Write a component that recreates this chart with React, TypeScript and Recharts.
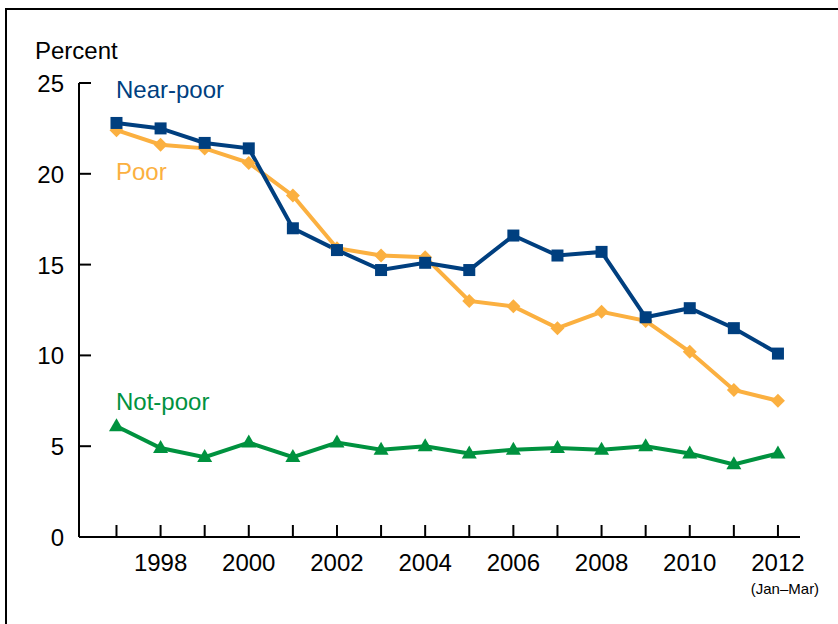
import React from "react";
import { LineChart, Line, XAxis, YAxis } from "recharts";

const years = [1997, 1998, 1999, 2000, 2001, 2002, 2003, 2004, 2005, 2006, 2007, 2008, 2009, 2010, 2011, 2012];
const nearPoor = [22.8, 22.5, 21.7, 21.4, 17.0, 15.8, 14.7, 15.1, 14.7, 16.6, 15.5, 15.7, 12.1, 12.6, 11.5, 10.1];
const poor = [22.4, 21.6, 21.4, 20.6, 18.8, 15.9, 15.5, 15.4, 13.0, 12.7, 11.5, 12.4, 11.9, 10.2, 8.1, 7.5];
const notPoor = [6.1, 4.9, 4.4, 5.2, 4.4, 5.2, 4.8, 5.0, 4.6, 4.8, 4.9, 4.8, 5.0, 4.6, 4.0, 4.6];
const yTicks = [0, 5, 10, 15, 20, 25];
const labeledYears = [1998, 2000, 2002, 2004, 2006, 2008, 2010, 2012];
const subLabels: Record<number, string> = { 2012: "(Jan\u2013Mar)" };
const seriesNames = { nearPoor: "Near-poor", poor: "Poor", notPoor: "Not-poor" };
const yAxisTitle = "Percent";

const data = years.map((y, i) => ({ year: y, nearPoor: nearPoor[i], poor: poor[i], notPoor: notPoor[i] }));

const FONT = "'Liberation Sans', Arial, Helvetica, sans-serif";
const C_NEAR = "#003f7f";
const C_POOR = "#fbb040";
const C_NOT = "#00923f";

const XTick = (props: any) => {
  const { x, y, payload } = props;
  const v = payload.value;
  return (
    <g>
      <line x1={x} x2={x} y1={y} y2={y - 12} stroke="#000" strokeWidth={2} />
      {labeledYears.includes(v) && (
        <text x={x} y={y + 34} textAnchor="middle" fontSize={24} fill="#000" fontFamily={FONT}>
          {v}
        </text>
      )}
      {subLabels[v] && (
        <text x={x + 7} y={y + 57} textAnchor="middle" fontSize={15} fill="#000" fontFamily={FONT}>
          {subLabels[v]}
        </text>
      )}
    </g>
  );
};

const YTick = (props: any) => {
  const { x, y, payload } = props;
  return (
    <g>
      <line x1={x} x2={x + 12} y1={y} y2={y} stroke="#000" strokeWidth={2} />
      <text x={x - 15} y={y + 9} textAnchor="end" fontSize={24} fill="#000" fontFamily={FONT}>
        {payload.value}
      </text>
    </g>
  );
};

const SquareDot = (props: any) => {
  const { cx, cy, index } = props;
  return <rect key={`sq-${index}`} x={cx - 6} y={cy - 6} width={12} height={12} fill={C_NEAR} />;
};

const DiamondDot = (props: any) => {
  const { cx, cy, index } = props;
  const r = 7;
  return (
    <polygon key={`dm-${index}`} points={`${cx},${cy - r} ${cx + r},${cy} ${cx},${cy + r} ${cx - r},${cy}`} fill={C_POOR} />
  );
};

const TriDot = (props: any) => {
  const { cx, cy, index } = props;
  return (
    <polygon key={`tr-${index}`} points={`${cx},${cy - 8} ${cx + 7.5},${cy + 5} ${cx - 7.5},${cy + 5}`} fill={C_NOT} />
  );
};

export default function App() {
  return (
    <div style={{ position: "absolute", left: 0, top: 0, width: 838, height: 624, overflow: "hidden", background: "#fff" }}>
      <div
        style={{
          position: "absolute",
          left: 5,
          top: 8,
          width: 900,
          height: 700,
          border: "2px solid #000",
          boxSizing: "border-box",
        }}
      />
      <div style={{ position: "absolute", left: 0, top: 0 }}>
        <LineChart width={838} height={624} data={data} margin={{ top: 83, right: 38, bottom: 27, left: 0 }}>
          <XAxis
            dataKey="year"
            type="number"
            domain={[1996.15, 2012.5]}
            ticks={years}
            interval={0}
            allowDataOverflow
            height={60}
            tickSize={0}
            tickMargin={0}
            tick={<XTick />}
            axisLine={{ stroke: "#000", strokeWidth: 2 }}
            tickLine={false}
          />
          <YAxis
            type="number"
            domain={[0, 25]}
            ticks={yTicks}
            interval={0}
            width={79}
            tickSize={0}
            tickMargin={0}
            tick={<YTick />}
            axisLine={{ stroke: "#000", strokeWidth: 2 }}
            tickLine={false}
          />
          <Line dataKey="notPoor" stroke={C_NOT} strokeWidth={4} dot={<TriDot />} isAnimationActive={false} />
          <Line dataKey="poor" stroke={C_POOR} strokeWidth={4} dot={<DiamondDot />} isAnimationActive={false} />
          <Line dataKey="nearPoor" stroke={C_NEAR} strokeWidth={4} dot={<SquareDot />} isAnimationActive={false} />
        </LineChart>
      </div>
      <svg width={838} height={624} style={{ position: "absolute", left: 0, top: 0, pointerEvents: "none" }}>
        <text x={35} y={59} fontSize={24} fill="#000" fontFamily={FONT}>{yAxisTitle}</text>
        <text x={116} y={98} fontSize={24} fill={C_NEAR} fontFamily={FONT}>{seriesNames.nearPoor}</text>
        <text x={116} y={180} fontSize={24} fill={C_POOR} fontFamily={FONT}>{seriesNames.poor}</text>
        <text x={116} y={410} fontSize={24} fill={C_NOT} fontFamily={FONT}>{seriesNames.notPoor}</text>
      </svg>
    </div>
  );
}
